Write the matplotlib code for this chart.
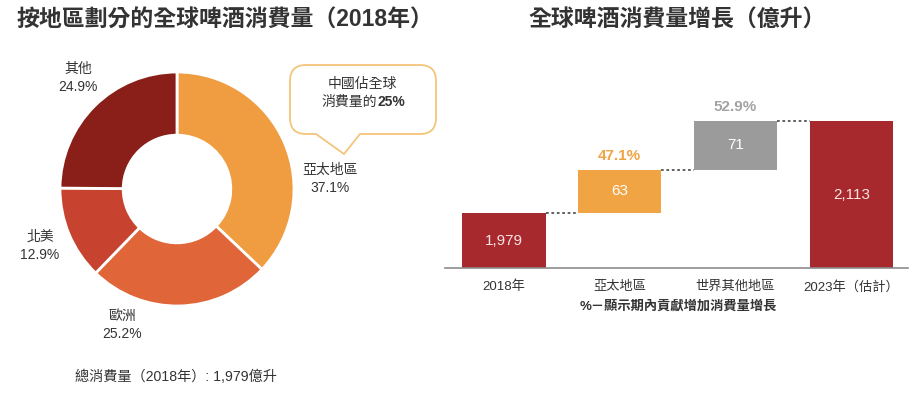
import matplotlib
matplotlib.use("Agg")
import matplotlib.pyplot as plt
from matplotlib.path import Path
from matplotlib.patches import PathPatch

plt.rcParams['font.family'] = ['Liberation Sans', 'Noto Sans CJK TC', 'DejaVu Sans']

# ---------------- data ----------------
regions = ['亞太地區', '歐洲', '北美', '其他']
shares = [37.1, 25.2, 12.9, 24.9]
donut_colors = ['#F09D42', '#E0663A', '#C8432F', '#8A1F19']

wf_labels = ['2018年', '亞太地區', '世界其他地區', '2023年（估計）']
wf_values = [1979, 63, 71, 2113]
wf_pct = [None, '47.1%', '52.9%', None]
wf_colors = ['#A8292D', '#F0A443', '#9B9B9B', '#A8292D']
wf_pct_colors = [None, '#F0A443', '#A3A3A3', None]

title_left = '按地區劃分的全球啤酒消費量（2018年）'
title_right = '全球啤酒消費量增長（億升）'
callout_l1 = '中國佔全球'
callout_l2a = '消費量的'
callout_l2b = '25%'
footnote = '總消費量（2018年）: 1,979億升'
wf_note = '%－顯示期內貢獻增加消費量增長'

W, H = 918, 393
fig = plt.figure(figsize=(W / 100, H / 100), dpi=100)
fig.patch.set_facecolor('white')

def px_rect(x0, y0, x1, y1):
    return [x0 / W, 1 - y1 / H, (x1 - x0) / W, (y1 - y0) / H]

# ---------------- donut ----------------
cx, cy, R = 177, 189, 117
axd = fig.add_axes(px_rect(cx - 120, cy - 120, cx + 120, cy + 120))
wedges, _ = axd.pie(shares, colors=donut_colors, startangle=90, counterclock=False,
                    radius=1.0, wedgeprops=dict(width=0.54, edgecolor='white', linewidth=2))
lim = 120 / R
axd.set_xlim(-lim, lim)
axd.set_ylim(-lim, lim)
axd.set_aspect('equal')
axd.axis('off')

# ---------------- overlay (pixel coords) ----------------
ov = fig.add_axes([0, 0, 1, 1], zorder=5)
ov.set_xlim(0, W)
ov.set_ylim(H, 0)
ov.axis('off')
ov.patch.set_alpha(0)

txt = '#333333'
ov.text(17, 20, title_left, fontsize=16.5, fontweight='bold', color=txt, ha='left', va='center')
ov.text(528, 20, title_right, fontsize=16.5, fontweight='bold', color=txt, ha='left', va='center')

lab_fs = 10
label_pos = {'亞太地區': (330, 170, 'center'), '歐洲': (122, 316, 'center'),
             '北美': (40, 237, 'center'), '其他': (78, 69, 'center')}
for name, s in zip(regions, shares):
    x, y, ha = label_pos[name]
    ov.text(x, y, name, fontsize=lab_fs, color=txt, ha=ha, va='center')
    ov.text(x, y + 18, f'{s:.1f}%', fontsize=lab_fs, color=txt, ha=ha, va='center')

# callout bubble
x0, y0, x1, y1, r = 290, 65, 436, 134, 16
tl, tr, tip = 316, 360, (344, 154)
verts = [(x0 + r, y0), (x1 - r, y0), (x1, y0), (x1, y0 + r), (x1, y1 - r), (x1, y1), (x1 - r, y1),
         (tr, y1), tip, (tl, y1), (x0 + r, y1), (x0, y1), (x0, y1 - r), (x0, y0 + r), (x0, y0),
         (x0 + r, y0)]
codes = [Path.MOVETO, Path.LINETO, Path.CURVE3, Path.CURVE3, Path.LINETO, Path.CURVE3, Path.CURVE3,
         Path.LINETO, Path.LINETO, Path.LINETO, Path.LINETO, Path.CURVE3, Path.CURVE3, Path.LINETO,
         Path.CURVE3, Path.CURVE3]
ov.add_patch(PathPatch(Path(verts, codes), facecolor='white', edgecolor='#F3C57A', linewidth=1.3))
ov.text(362, 84, callout_l1, fontsize=lab_fs, color=txt, ha='center', va='center')
ov.text(377, 102, callout_l2a, fontsize=lab_fs, color=txt, ha='right', va='center')
ov.text(377, 102, callout_l2b, fontsize=lab_fs, color=txt, ha='left', va='center', fontweight='bold')

ov.text(75, 377, footnote, fontsize=10.2, color=txt, ha='left', va='center')

# ---------------- waterfall ----------------
axw = fig.add_axes(px_rect(445, 80, 908, 268))
base = 1899
bots, heights = [], []
cum = 0
for i, v in enumerate(wf_values):
    if i == 0 or i == len(wf_values) - 1:
        bots.append(base)
        heights.append(v - base)
        cum = v
    else:
        bots.append(cum)
        heights.append(v)
        cum += v
xs = list(range(len(wf_values)))
bw = 0.72
axw.bar(xs, heights, bottom=bots, width=bw, color=wf_colors, zorder=2)
for i, v in enumerate(wf_values):
    yc = bots[i] + heights[i] / 2
    axw.text(xs[i], yc, f'{v:,}', ha='center', va='center', fontsize=11,
             color='#FBE3E3' if wf_colors[i] == '#A8292D' else 'white', zorder=3)
    if wf_pct[i]:
        axw.annotate(wf_pct[i], (xs[i], bots[i] + heights[i]), xytext=(0, 5),
                     textcoords='offset points', ha='center', va='bottom', fontsize=11,
                     fontweight='bold', color=wf_pct_colors[i])
# connectors
for i in range(len(wf_values) - 1):
    level = bots[i] + heights[i]
    axw.plot([xs[i] + bw / 2, xs[i + 1] - bw / 2], [level, level], linestyle=(0, (1.5, 1.5)),
             color='#555555', linewidth=1.3, zorder=1)
axw.set_xlim(-0.51, 3.49)
axw.set_ylim(base, base + 188 / 0.6866)
for s in ['top', 'right', 'left']:
    axw.spines[s].set_visible(False)
axw.spines['bottom'].set_color('#8C8C8C')
axw.spines['bottom'].set_linewidth(1.2)
axw.set_yticks([])
axw.set_xticks(xs)
axw.set_xticklabels(wf_labels, fontsize=9.5, color=txt)
axw.tick_params(axis='x', length=0, pad=9)
axw.patch.set_alpha(0)

ov.text(678, 306, wf_note, fontsize=9.5, color=txt, ha='center', va='center', fontweight='bold')

fig.savefig('out.png', dpi=100, facecolor='white')
